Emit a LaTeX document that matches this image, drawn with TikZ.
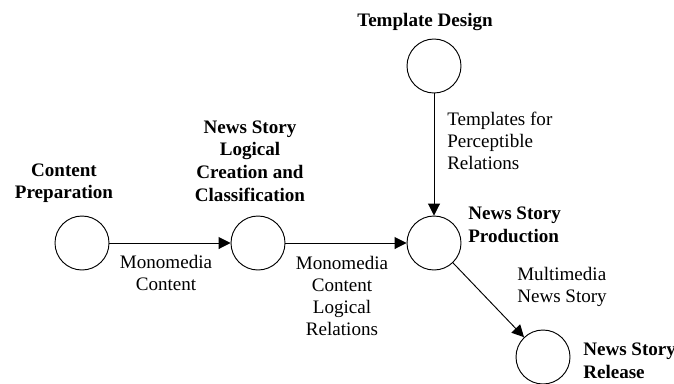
\documentclass[tikz,border=0pt]{standalone}
\usepackage{fontspec}
\setmainfont{Liberation Serif}
\usetikzlibrary{arrows.meta,positioning}

\begin{document}
\begin{tikzpicture}[x=0.75pt,y=-0.75pt,line cap=round,line join=round,
  >={Triangle[length=9pt,width=9pt]},
  proc/.style={draw,circle,minimum size=40.5pt,inner sep=0pt,line width=0.7pt},
  title/.style={font=\fontsize{14.3}{16.9}\selectfont\bfseries,inner sep=0pt},
  flow/.style={font=\fontsize{14.3}{16.5}\selectfont,inner sep=0pt},
  link/.style={->,line width=0.7pt}]
\useasboundingbox (0,0) rectangle (674,383);
%processes
\node[proc] (prep) at (82,243) {};
\node[proc] (logic) at (258,243) {};
\node[proc] (tmpl) at (434,66) {};
\node[proc] (prod) at (434,243) {};
\node[proc] (rel) at (543,357) {};
%titles
\node[title,align=center] (tprep) at (64,183) {Content\\Preparation};
\node[title,align=center] (tlogic) at (250,161) {News Story\\Logical\\Creation and\\Classification};
\node[title] (ttmpl) at (425,22) {Template Design};
\node[title,align=left,anchor=west] (tprod) at (468,225) {News Story\\Production};
\node[title,align=left,anchor=west] (trel) at (583,361) {News Story\\Release};
%flows
\draw[link] (prep) -- (logic);
\draw[link] (logic) -- (prod);
\draw[link] (tmpl) -- (prod);
\draw[link] (prod) -- (rel);
\node[flow,align=center] (fmono) at (166,273) {Monomedia\\Content};
\node[flow,align=center] (flogic) at (342,296) {Monomedia\\Content\\Logical\\Relations};
\node[flow,align=left,anchor=west] (ftmpl) at (447,141) {Templates for\\Perceptible\\Relations};
\node[flow,align=left,anchor=west] (fmulti) at (517,287) {Multimedia\\News Story};
\end{tikzpicture}
\end{document}
